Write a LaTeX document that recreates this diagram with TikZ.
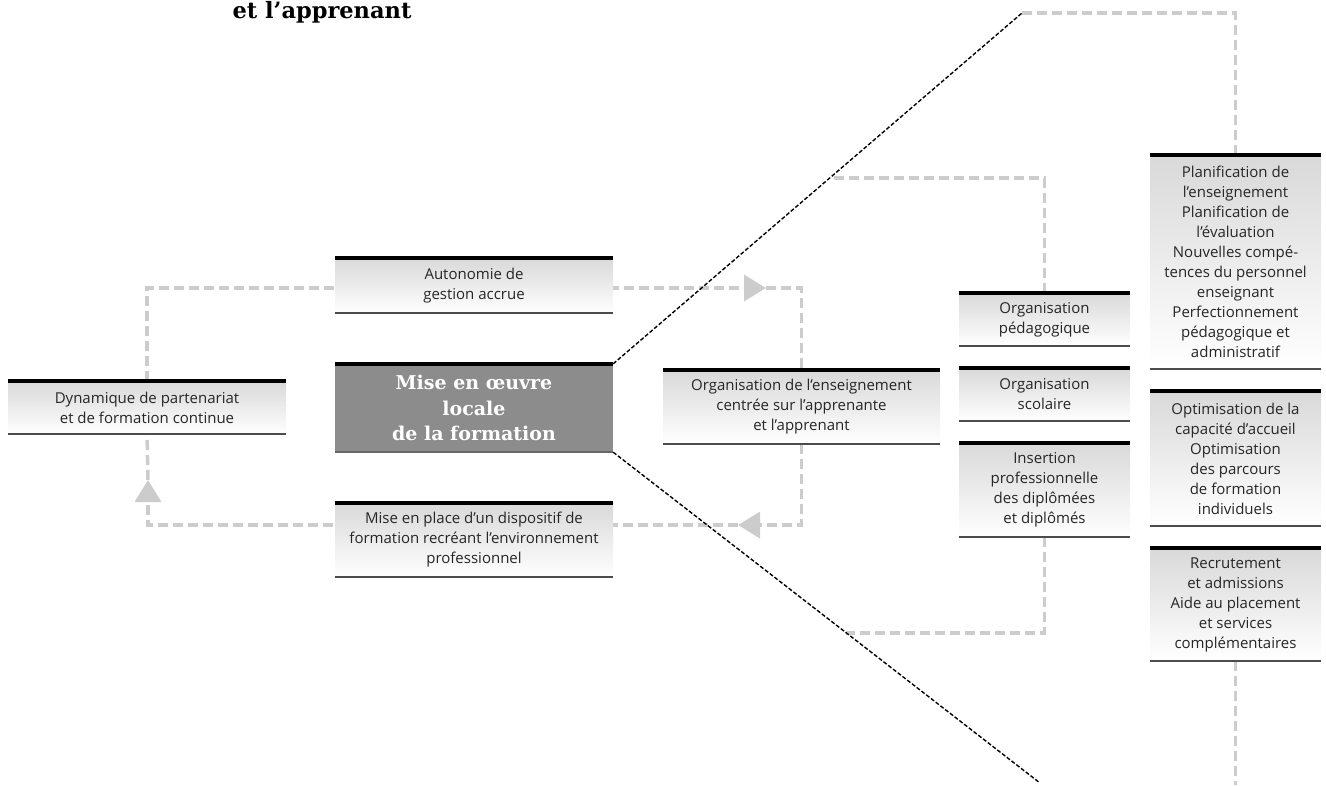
\documentclass[tikz,border=0pt]{standalone}
\usepackage{fontspec}
\setmainfont{Open Sans}
\newfontfamily\serifb{DejaVu Serif}
\usetikzlibrary{arrows.meta,calc}
\pgfdeclarelayer{bg}
\pgfsetlayers{bg,main}
\begin{document}
\begin{tikzpicture}[x=1pt,y=-1pt,
  box/.style={inner sep=0pt, align=center, top color=black!15, bottom color=white,
    font=\fontsize{15}{20}\selectfont, text=black!85},
  gdash/.style={draw=black!20, line width=3.5pt, dash pattern=on 10pt off 5pt},
  gtip/.style={-{Triangle[length=22pt,width=26pt,fill=black!20,color=black!20]}},
  diag/.style={line width=1.4pt, dash pattern=on 4pt off 2pt},
  topline/.style={line width=4pt},
  botline/.style={line width=1.5pt, draw=black!70}]
\useasboundingbox (0,0) rectangle (1326,785);

% title fragment
\node[font=\serifb\bfseries\fontsize{22.5}{26}\selectfont, anchor=base, inner sep=0pt] (ttl) at (322,18) {et l’apprenant};

\coordinate (a1) at (766,288);
\coordinate (b1) at (738,525);
\coordinate (b2) at (148,480);
\coordinate (dtop) at (1022,13);
\coordinate (dbot) at (1040,783);
\coordinate (r1) at (1235.5,785);

% nodes
\node[box, minimum width=278pt, minimum height=53pt] (dyn) at (147,407.5) {Dynamique de partenariat\\et de formation continue};
\node[box, minimum width=278pt, minimum height=55pt] (auto) at (474,285.5) {Autonomie de\\gestion accrue};
\node[box, minimum width=278pt, minimum height=74pt] (mise) at (474,540) {Mise en place d’un dispositif de\\formation recréant l’environnement\\professionnel};
\node[box, minimum width=277pt, minimum height=74pt] (orgens) at (801.5,407) {Organisation de l’enseignement\\centrée sur l’apprenante\\et l’apprenant};
\node[box, minimum width=171pt, minimum height=53pt] (orgped) at (1044.5,319.5) {Organisation\\pédagogique};
\node[box, minimum width=171pt, minimum height=53pt] (orgsco) at (1044.5,394.5) {Organisation\\scolaire};
\node[box, minimum width=171pt, minimum height=94pt] (insert) at (1044.5,490) {Insertion\\professionnelle\\des diplômées\\et diplômés};
\node[box, minimum width=171pt, minimum height=214pt] (plan) at (1235.5,262) {Planification de\\l’enseignement\\Planification de\\l’évaluation\\Nouvelles compé-\\tences du personnel\\enseignant\\Perfectionnement\\pédagogique et\\administratif};
\node[box, minimum width=171pt, minimum height=135pt] (optim) at (1235.5,458.5) {Optimisation de la\\capacité d’accueil\\Optimisation\\des parcours\\de formation\\individuels};
\node[box, minimum width=171pt, minimum height=113pt] (recru) at (1235.5,604.5) {Recrutement\\et admissions\\Aide au placement\\et services\\complémentaires};
\node[inner sep=0pt, minimum width=278pt, minimum height=88pt, fill=black!45, text=white, align=center,
  font=\serifb\bfseries\fontsize{19}{25.5}\selectfont] (center) at (474,408) {Mise en œuvre\\locale\\de la formation};

% box rules
\foreach \n in {dyn,auto,mise,orgens,orgped,orgsco,insert,plan,optim,recru}{
  \draw[topline] (\n.north west) -- (\n.north east);
  \draw[botline] (\n.south west) -- (\n.south east);
}
\draw[topline] (center.north west) -- (center.north east);
\draw[line width=2pt, draw=black!60] (center.south west) -- (center.south east);

% gray dashed connectors behind boxes
\begin{pgfonlayer}{bg}
  \draw[gdash, gtip] (dyn.north) |- (a1);
  \draw[gdash] (a1) -| (orgens.north);
  \draw[gdash, gtip] (orgens.south) |- (b1);
  \draw[gdash, gtip] (b1) -| (b2);
  \draw[gdash] (b2) -- (dyn.south);
  \coordinate (p3) at (intersection of center.north east--dtop and 0,178--1326,178);
  \draw[gdash] (orgped.north) |- (p3);
  \draw[gdash] (plan.north) |- (dtop);
  \coordinate (p5) at (intersection of center.south east--dbot and 0,633--1326,633);
  \draw[gdash] (insert.south) |- (p5);
  \draw[gdash] (recru.south) -- (r1);
\end{pgfonlayer}

% black dashed diagonals
\draw[diag] (center.north east) -- (dtop);
\draw[diag] (center.south east) -- (dbot);
\end{tikzpicture}
\end{document}
